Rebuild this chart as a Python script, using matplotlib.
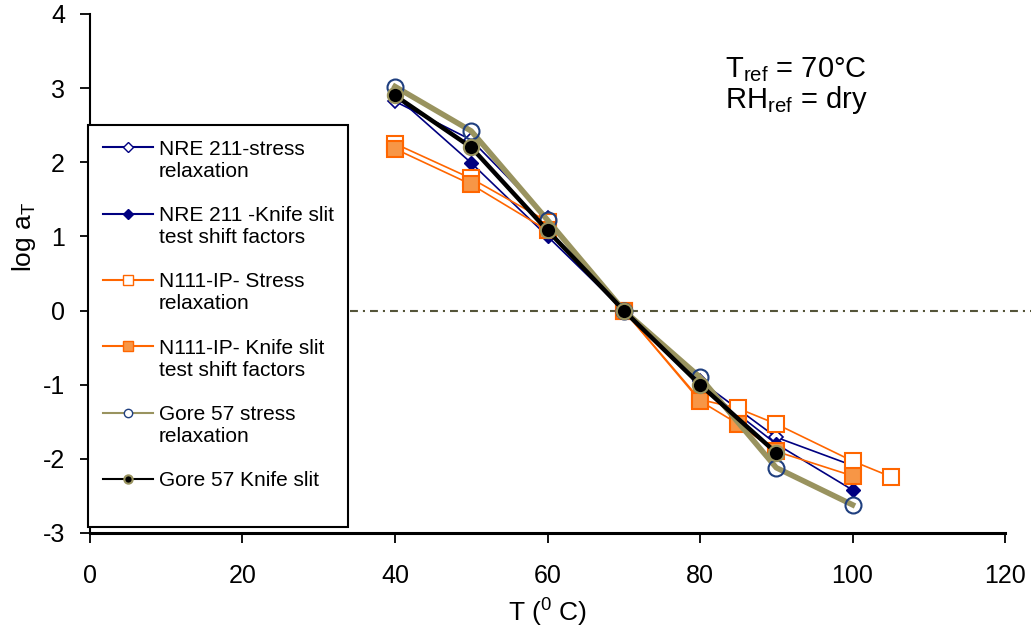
import matplotlib
matplotlib.use('Agg')
import matplotlib.pyplot as plt
from matplotlib.lines import Line2D

plt.rcParams['font.family'] = ['Liberation Sans', 'DejaVu Sans']
plt.rcParams['mathtext.fontset'] = 'custom'
plt.rcParams['mathtext.rm'] = 'Liberation Sans'
plt.rcParams['mathtext.it'] = 'Liberation Sans:italic'
plt.rcParams['axes.unicode_minus'] = False

# data
t_nre = [40, 50, 60, 70, 80, 90, 100]
nre_stress = [2.82, 2.3, 1.25, 0, -0.95, -1.71, -2.09]
nre_knife = [2.9, 1.99, 1.0, 0, -1.0, -1.8, -2.42]

t_n111_sr = [40, 50, 60, 70, 80, 85, 90, 100, 105]
n111_stress = [2.25, 1.78, 1.2, 0, -1.2, -1.32, -1.53, -2.03, -2.24]
t_n111_ks = [40, 50, 60, 70, 80, 85, 90, 100]
n111_knife = [2.18, 1.7, 1.08, 0, -1.22, -1.53, -1.9, -2.23]

t_gore_sr = [40, 50, 60, 70, 80, 90, 100]
gore_stress = [3.02, 2.42, 1.22, 0, -0.9, -2.12, -2.62]
t_gore_ks = [40, 50, 60, 70, 80, 90]
gore_knife = [2.9, 2.2, 1.08, 0, -1.0, -1.92]

labels = ['NRE 211-stress\nrelaxation',
          'NRE 211 -Knife slit\ntest shift factors',
          'N111-IP- Stress\nrelaxation',
          'N111-IP- Knife slit\ntest shift factors',
          'Gore 57 stress\nrelaxation',
          'Gore 57 Knife slit']

navy = '#000080'
orange = '#FF6600'
orange_fill = '#F79646'
olive = '#99935F'
circ_edge = '#1F3F7F'

fig = plt.figure(figsize=(10.34, 6.3), dpi=100)
ax = fig.add_axes([0.087, 0.154, 0.885, 0.824])

ax.axhline(0, xmin=0, xmax=1.028, color='#55553A', lw=1.5, ls=(0, (3.8, 2.4, 1, 2.4)),
           clip_on=False, zorder=1)

ax.plot(t_nre, nre_stress, color=navy, lw=1.2, marker='D', ms=7.5,
        mfc='white', mec=navy, mew=1.2, zorder=3)
ax.plot(t_nre, nre_knife, color=navy, lw=1.2, marker='D', ms=7.5,
        mfc=navy, mec=navy, zorder=3)
ax.plot(t_n111_sr, n111_stress, color=orange, lw=1.2, marker='s', ms=11.5,
        mfc='white', mec=orange, mew=1.5, zorder=4)
ax.plot(t_n111_ks, n111_knife, color=orange, lw=1.2, marker='s', ms=11,
        mfc=orange_fill, mec=orange, mew=1.5, zorder=4)
ax.plot(t_gore_sr, gore_stress, color=olive, lw=4, marker='o', ms=11.5,
        mfc='none', mec=circ_edge, mew=1.5, zorder=5)
ax.plot(t_gore_ks, gore_knife, color='black', lw=3.2, marker='o', ms=11,
        mfc='black', mec=olive, mew=1.5, zorder=6)

ax.set_xlim(0, 120)
ax.set_ylim(-3, 4)
ax.set_xticks(range(0, 121, 20))
ax.set_yticks(range(-3, 5))
ax.spines['top'].set_visible(False)
ax.spines['right'].set_visible(False)
ax.spines['left'].set_linewidth(1.5)
ax.spines['bottom'].set_linewidth(2.2)
ax.tick_params(direction='out', length=7, width=1.3, labelsize=18)
ax.tick_params(axis='x', pad=15)
ax.tick_params(axis='y', pad=11)

ax.set_xlabel(r'T ($^{\mathrm{0}}$ C)', fontsize=19)
ax.xaxis.set_label_coords(0.5, -0.122)
ax.set_ylabel(r'log a$_{\mathrm{T}}$', fontsize=19)
ax.yaxis.set_label_coords(-0.057, 0.57)

ax.text(83.3, 3.15, r'T$_{\mathrm{ref}}$ = 70°C', fontsize=21, va='baseline')
ax.text(83.3, 2.73, r'RH$_{\mathrm{ref}}$ = dry', fontsize=21, va='baseline')

# legend: one row per text line, blank rows between entries
blank = Line2D([], [], ls='none')
proxies = [
    Line2D([], [], color=navy, lw=1.5, marker='D', ms=5.5, mfc='white', mec=navy),
    Line2D([], [], color=navy, lw=1.5, marker='D', ms=5.5, mfc=navy, mec=navy),
    Line2D([], [], color=orange, lw=1.5, marker='s', ms=6.5, mfc='white', mec=orange),
    Line2D([], [], color=orange, lw=1.5, marker='s', ms=6.5, mfc=orange_fill, mec=orange),
    Line2D([], [], color=olive, lw=1.5, marker='o', ms=6, mfc='white', mec=circ_edge),
    Line2D([], [], color='black', lw=1.5, marker='o', ms=6, mfc='black', mec=olive, mew=1.5),
]
handles, texts = [], []
for h, lab in zip(proxies, labels):
    lines = lab.split('\n')
    handles.append(h)
    texts.append(lines[0])
    for extra in lines[1:]:
        handles.append(blank)
        texts.append(extra)
    handles.append(blank)
    texts.append(' ')

leg = ax.legend(handles, texts, loc='upper left', bbox_to_anchor=(0.0851, 0.8016),
                bbox_transform=fig.transFigure, borderaxespad=0, fontsize=15,
                labelspacing=0.15, handlelength=2.4, handletextpad=0.3,
                borderpad=0.7, frameon=True, fancybox=False, framealpha=1)
leg.get_frame().set_edgecolor('black')
leg.get_frame().set_linewidth(1.5)
leg.set_zorder(10)

fig.savefig('out.png', dpi=100)
